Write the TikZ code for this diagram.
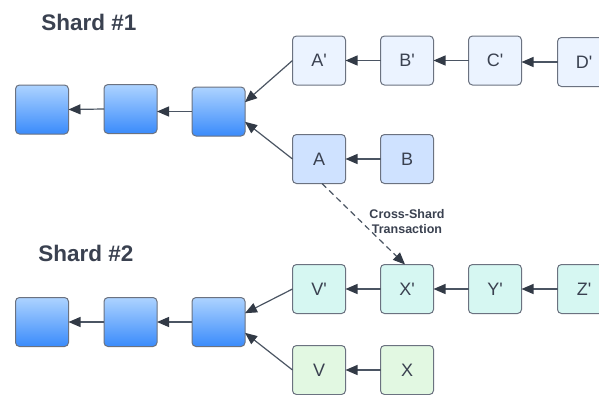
\documentclass[tikz,border=0pt]{standalone}
\usepackage{fontspec}
\setmainfont{Liberation Sans}
\usetikzlibrary{arrows.meta,calc}
\definecolor{edgegray}{HTML}{4B5563}
\definecolor{tipgray}{HTML}{323A46}
\definecolor{boxline}{HTML}{6B7280}
\definecolor{txt}{HTML}{3A4150}
\definecolor{blueTop}{HTML}{ADD3FF}
\definecolor{blueBot}{HTML}{3A8BFB}
\definecolor{paleBlue}{HTML}{EBF3FF}
\definecolor{midBlue}{HTML}{CFE2FF}
\definecolor{paleTeal}{HTML}{D6F7F2}
\definecolor{paleGreen}{HTML}{E2F8E2}
\newcommand{\pr}{\textquotesingle}
\tikzset{
  blk/.style={draw=boxline, line width=1pt, rounded corners=4pt,
    minimum width=53pt, minimum height=49pt, outer sep=0pt, inner sep=0pt,
    font=\fontsize{18}{20}\selectfont, text=txt},
  chainblk/.style={blk, top color=blueTop, bottom color=blueBot},
  link/.style={draw=edgegray, line width=1.2pt,
    -{Triangle[length=12pt,width=10pt,color=tipgray]}},
  title/.style={font=\bfseries\fontsize{22.5}{26}\selectfont, text=txt},
}
\begin{document}
\begin{tikzpicture}[x=1pt,y=-1pt]
\useasboundingbox[fill=white] (0,0) rectangle (599,394);

% titles
\node[title] (t1) at (89,22) {Shard \#1};
\node[title] (t2) at (86,253) {Shard \#2};

% shard 1 main chain
\node[chainblk] (s1a) at (42,109.5) {};
\node[chainblk] (s1b) at (130.5,109) {};
\node[chainblk] (s1c) at (218.5,111.5) {};
% shard 1 forks
\node[blk, fill=paleBlue] (Ap) at (319,60.5) {A\pr};
\node[blk, fill=paleBlue] (Bp) at (407,60.5) {B\pr};
\node[blk, fill=paleBlue] (Cp) at (495,60.5) {C\pr};
\node[blk, fill=paleBlue] (Dp) at (584,62) {D\pr};
\node[blk, fill=midBlue] (A) at (319,159) {A};
\node[blk, fill=midBlue] (B) at (407,159) {B};

% shard 2 main chain
\node[chainblk] (s2a) at (42,322) {};
\node[chainblk] (s2b) at (130.5,322) {};
\node[chainblk] (s2c) at (218.5,322) {};
% shard 2 forks
\node[blk, fill=paleTeal] (Vp) at (319,289) {V\pr};
\node[blk, fill=paleTeal] (Xp) at (407,289) {X\pr};
\node[blk, fill=paleTeal] (Yp) at (495,289) {Y\pr};
\node[blk, fill=paleTeal] (Zp) at (584,289) {Z\pr};
\node[blk, fill=paleGreen] (V) at (319,370) {V};
\node[blk, fill=paleGreen] (X) at (407,370) {X};

% shard 1 links
\draw[link] (s1b.west) -- (s1a.east);
\draw[link] (s1c.west) -- (s1b.east |- s1c.west);
\draw[link] (Ap.west) -- ($(s1c.north east)!0.31!(s1c.south east)$);
\draw[link] (A.west) -- ($(s1c.north east)!0.71!(s1c.south east)$);
\draw[link] (Bp) -- (Ap);
\draw[link] (Cp) -- (Bp);
\draw[link] (Dp.west) -- (Cp.east |- Dp.west);
\draw[link] (B) -- (A);

% shard 2 links
\draw[link] (s2b) -- (s2a);
\draw[link] (s2c) -- (s2b);
\draw[link] (Vp.west) -- ($(s2c.north east)!0.32!(s2c.south east)$);
\draw[link] (V.west) -- ($(s2c.north east)!0.72!(s2c.south east)$);
\draw[link] (Xp) -- (Vp);
\draw[link] (Yp) -- (Xp);
\draw[link] (Zp) -- (Yp);
\draw[link] (X) -- (V);

% cross-shard transfer
\draw[link, dashed, dash pattern=on 6pt off 4pt] ([xshift=3pt]A.south) -- ([xshift=-2pt]Xp.north);
\node[font=\bfseries\fontsize{12.5}{15}\selectfont, text=txt, align=center] (cs) at (407,221.5) {Cross-Shard\\Transaction};
\end{tikzpicture}
\end{document}
